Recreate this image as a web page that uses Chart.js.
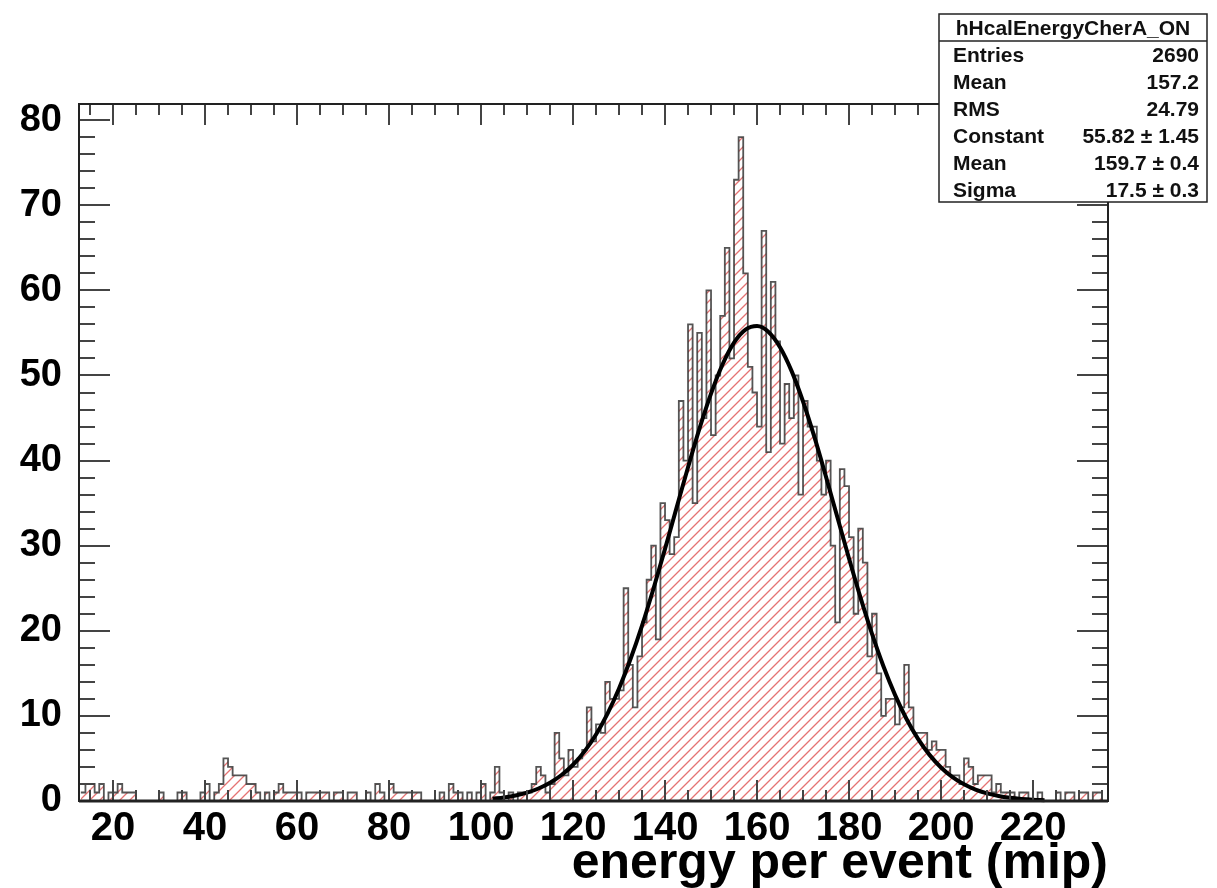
<!DOCTYPE html>
<html>
<head>
<meta charset="utf-8">
<script src="https://cdn.jsdelivr.net/npm/chart.js@4.4.1/dist/chart.umd.min.js"></script>
<style>
html,body{margin:0;padding:0;background:#fff;}
#wrap{width:1217px;height:888px;position:relative;}
</style>
</head>
<body>
<div id="wrap"><canvas id="c" width="1217" height="888"></canvas></div>
<script>
// ---- data ----
const histName = 'hHcalEnergyCherA_ON';
const xTitle = 'energy per event (mip)';
const firstBinEdge = 13;   // lower edge of first bin (mip)
const binWidth = 1;        // mip per bin
const counts = [
  1,2,2,1,2,0,1,1,2,1,      // 13-22
  1,1,0,0,0,0,0,1,0,0,      // 23-32
  0,1,1,0,0,0,1,2,0,1,      // 33-42
  2,5,4,3,3,3,2,2,1,0,      // 43-52
  1,0,1,2,1,1,1,1,0,1,      // 53-62
  1,1,1,1,0,1,1,0,1,1,      // 63-72
  0,0,1,0,2,1,0,2,1,1,      // 73-82
  1,1,1,1,0,0,0,0,1,0,      // 83-92
  2,1,1,0,1,0,1,2,0,1,      // 93-102
  4,1,0,1,0,1,1,1,2,4,      // 103-112
  3,1,2,8,5,3,6,4,5,6,      // 113-122
  11,7,9,8,14,12,12,13,25,16,   // 123-132
  11,17,21,26,30,19,35,33,29,31, // 133-142
  47,40,56,35,55,45,60,43,50,57, // 143-152
  65,52,73,78,62,51,48,44,67,41, // 153-162
  61,54,42,49,45,50,36,47,44,44, // 163-172
  40,36,40,30,21,39,37,31,22,32, // 173-182
  28,17,22,15,10,12,12,9,11,16,  // 183-192
  11,8,8,8,6,7,6,6,4,3,          // 193-202
  3,2,5,4,2,3,3,3,1,2,           // 203-212
  1,1,1,0,1,1,0,0,1,0,           // 213-222
  0,0,1,0,1,1,0,1,1,0,           // 223-232
  1,1,0                          // 233-235
];
// gaussian fit curve
const fitX = [102.5,105,107.5,110,112.5,115,117.5,120,122.5,125,127.5,130,132.5,135,137.5,140,142.5,145,147.5,150,152.5,155,157.5,160,162.5,165,167.5,170,172.5,175,177.5,180,182.5,185,187.5,190,192.5,195,197.5,200,202.5,205,207.5,210,212.5,215,217.5,220,222.5];
const fitY = [0.27,0.42,0.65,0.99,1.47,2.14,3.05,4.26,5.83,7.81,10.27,13.22,16.68,20.61,24.97,29.62,34.44,39.22,43.78,47.87,51.29,53.85,55.38,55.81,55.11,53.32,50.54,46.94,42.72,38.09,33.28,28.49,23.89,19.63,15.80,12.47,9.64,7.30,5.42,3.94,2.80,1.96,1.34,0.90,0.59,0.38,0.24,0.15,0.09];
const xTickLabels = [20,40,60,80,100,120,140,160,180,200,220];
const yTickLabels = [0,10,20,30,40,50,60,70,80];
const xRange = [12.6, 236.3];
const yRange = [0, 81.9];
const statLabels = ['Entries','Mean','RMS','Constant','Mean','Sigma'];
const statValues = ['2690','157.2','24.79','55.82 \u00b1 1.45','159.7 \u00b1 0.4','17.5 \u00b1 0.3'];

// ---- build library data ----
const histPoints = counts.map((c, i) => ({x: firstBinEdge + i * binWidth, y: c}));
histPoints.push({x: firstBinEdge + counts.length * binWidth, y: 0});
const fitPoints = fitX.map((x, i) => ({x: x, y: fitY[i]}));

const FONT = "'Liberation Sans', Arial, Helvetica, sans-serif";
const canvas = document.getElementById('c');
const ctx = canvas.getContext('2d');

// red hatch pattern (ROOT style ///)
const pc = document.createElement('canvas');
pc.width = 10; pc.height = 10;
const p = pc.getContext('2d');
p.strokeStyle = 'rgba(225,90,90,0.85)';
p.lineWidth = 1.3;
p.beginPath();
p.moveTo(0, 10); p.lineTo(10, 0);
p.moveTo(-5, 5); p.lineTo(5, -5);
p.moveTo(5, 15); p.lineTo(15, 5);
p.stroke();
const hatch = ctx.createPattern(pc, 'repeat');

const rootFrame = {
  id: 'rootFrame',
  afterDatasetsDraw(chart) {
    const {ctx, chartArea: a, scales: {x, y}} = chart;
    ctx.save();
    ctx.strokeStyle = '#444';
    ctx.lineWidth = 2;
    ctx.beginPath();
    for (let v = 15; v <= xRange[1]; v += 5) {
      if (v < xRange[0]) continue;
      const px = Math.round(x.getPixelForValue(v));
      const len = v % 20 === 0 ? 21 : 11;
      ctx.moveTo(px, a.bottom); ctx.lineTo(px, a.bottom - len);
      ctx.moveTo(px, a.top); ctx.lineTo(px, a.top + len);
    }
    for (let v = 0; v <= 80; v += 2) {
      const py = Math.round(y.getPixelForValue(v));
      const len = v % 10 === 0 ? 31 : 16;
      ctx.moveTo(a.left, py); ctx.lineTo(a.left + len, py);
      ctx.moveTo(a.right, py); ctx.lineTo(a.right - len, py);
    }
    ctx.stroke();
    ctx.strokeStyle = '#222';
    ctx.lineWidth = 2;
    ctx.strokeRect(a.left, a.top, a.right - a.left, a.bottom - a.top);
    ctx.lineWidth = 3;
    ctx.beginPath();
    ctx.moveTo(a.left, a.bottom); ctx.lineTo(a.right, a.bottom);
    ctx.stroke();
    ctx.restore();
  },
  afterDraw(chart) {
    const c = chart.ctx;
    const bx = 939, by = 14, bw = 268, bh = 188, hh = 27;
    c.save();
    c.fillStyle = '#fff';
    c.fillRect(bx, by, bw, bh);
    c.strokeStyle = '#222';
    c.lineWidth = 1.5;
    c.strokeRect(bx, by, bw, bh);
    c.beginPath();
    c.moveTo(bx, by + hh); c.lineTo(bx + bw, by + hh);
    c.stroke();
    c.fillStyle = '#111';
    c.font = 'bold 21px ' + FONT;
    c.textAlign = 'center';
    c.textBaseline = 'alphabetic';
    c.fillText(histName, bx + bw / 2, by + 21, bw - 16);
    c.font = 'bold 21px ' + FONT;
    const rowH = (bh - hh) / statLabels.length;
    statLabels.forEach((lab, i) => {
      const yy = by + hh + rowH * i + rowH / 2 + 8;
      c.textAlign = 'left';
      c.fillText(lab, bx + 14, yy);
      c.textAlign = 'right';
      c.fillText(statValues[i], bx + bw - 8, yy);
    });
    c.restore();
  }
};

new Chart(ctx, {
  type: 'line',
  data: {
    datasets: [
      {
        label: 'fit',
        data: fitPoints,
        order: 0,
        borderColor: '#000',
        borderWidth: 4,
        pointRadius: 0,
        fill: false,
        cubicInterpolationMode: 'monotone',
        clip: 4
      },
      {
        label: histName,
        data: histPoints,
        order: 1,
        stepped: 'before',
        borderColor: 'rgba(55,55,55,0.85)',
        borderWidth: 1.8,
        backgroundColor: hatch,
        fill: 'origin',
        pointRadius: 0
      }
    ]
  },
  options: {
    responsive: false,
    animation: false,
    devicePixelRatio: 1,
    layout: {padding: {top: 104, right: 109, bottom: 0, left: 0}},
    plugins: {legend: {display: false}, tooltip: {enabled: false}},
    scales: {
      x: {
        type: 'linear',
        min: xRange[0], max: xRange[1],
        grid: {display: false, drawTicks: false},
        border: {display: false},
        afterBuildTicks: s => { s.ticks = xTickLabels.map(v => ({value: v})); },
        afterFit: s => { s.height = 87; },
        ticks: {autoSkip: false, maxRotation: 0, padding: 4, color: '#000',
                font: {family: FONT, weight: 'bold', size: 40}},
        title: {display: true, text: xTitle, align: 'end', color: '#000', padding: 0,
                font: {family: FONT, weight: 'bold', size: 50, lineHeight: 0.96}}
      },
      y: {
        type: 'linear',
        min: yRange[0], max: yRange[1],
        grid: {display: false, drawTicks: false},
        border: {display: false},
        afterBuildTicks: s => { s.ticks = yTickLabels.map(v => ({value: v})); },
        afterFit: s => { s.width = 79; },
        ticks: {autoSkip: false, padding: 17, color: '#000',
                font: {family: FONT, weight: 'bold', size: 38}}
      }
    }
  },
  plugins: [rootFrame]
});
</script>
</body>
</html>
